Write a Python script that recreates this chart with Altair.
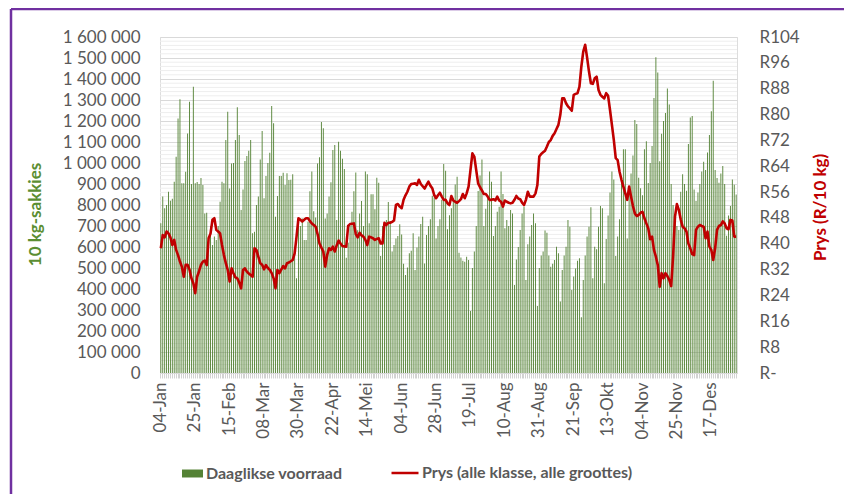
import altair as alt
import pandas as pd

tick_labels = ["04-Jan", "25-Jan", "15-Feb", "08-Mar", "30-Mar", "22-Apr", "14-Mei",
               "04-Jun", "28-Jun", "19-Jul", "10-Aug", "31-Aug", "21-Sep", "13-Okt",
               "04-Nov", "25-Nov", "17-Des"]

# daily stock, in thousands of 10 kg bags (one value per trading day)
stock_k = [
    713, 840, 784, 800, 863, 820, 830, 911, 1030, 1212, 1303, 903, 903, 958, 1141, 1292, 900, 1363,
    903, 910, 900, 928, 895, 760, 763, 633, 700, 609, 650, 633, 700, 816, 911, 903, 1109, 1244,
    879, 998, 1000, 1109, 1265, 1133, 776, 874, 1010, 1033, 1058, 1109, 665, 673, 800, 840, 1017, 1152,
    832, 938, 1000, 1049, 1271, 1189, 744, 843, 938, 938, 954, 895, 951, 919, 920, 947, 600, 451,
    736, 700, 736, 633, 633, 720, 865, 960, 770, 740, 998, 1027, 1195, 1165, 736, 760, 840, 908,
    1062, 1086, 728, 1101, 1058, 1020, 971, 549, 620, 700, 768, 865, 955, 680, 760, 819, 700, 960,
    947, 713, 851, 851, 780, 930, 906, 557, 700, 680, 728, 814, 724, 578, 609, 640, 652, 708,
    660, 520, 467, 502, 570, 582, 665, 490, 598, 650, 709, 744, 522, 657, 700, 732, 844, 836,
    641, 700, 732, 825, 995, 963, 684, 751, 784, 832, 898, 935, 573, 550, 535, 530, 554, 538,
    295, 500, 578, 700, 867, 940, 1017, 700, 782, 832, 960, 911, 652, 700, 768, 792, 960, 852,
    689, 728, 700, 776, 760, 419, 541, 600, 681, 760, 792, 443, 613, 650, 705, 760, 713, 319,
    500, 560, 578, 678, 668, 560, 506, 520, 538, 601, 570, 340, 490, 560, 601, 728, 697, 395,
    460, 498, 535, 546, 265, 443, 560, 650, 697, 789, 451, 601, 589, 697, 795, 784, 427, 638,
    750, 860, 960, 922, 557, 650, 732, 928, 1065, 1065, 641, 870, 950, 1036, 1205, 1186, 930, 880,
    847, 1065, 1103, 905, 1000, 1081, 1309, 1503, 1431, 1008, 1139, 1200, 1238, 1355, 1279, 900, 800, 747,
    700, 681, 863, 947, 900, 868, 1090, 1217, 1224, 874, 819, 860, 900, 960, 1006, 967, 1050, 1133,
    1247, 1392, 967, 928, 906, 950, 986, 900, 654, 750, 795, 922, 897, 850,
]

# price, R per 10 kg (one value per trading day)
price = [
    38.6, 42.7, 42.0, 43.8, 43.2, 42.0, 39.6, 41.2, 38.1, 36.5, 34.5, 32.9, 29.8, 33.5, 33.5, 32.0, 29.3, 27.8,
    24.7, 29.8, 31.5, 33.5, 34.5, 34.8, 33.4, 41.7, 43.2, 47.4, 47.9, 44.3, 43.8, 43.2, 39.6, 36.5, 34.0, 31.9,
    28.3, 32.4, 30.9, 29.6, 29.3, 28.0, 26.2, 31.9, 32.4, 31.4, 30.8, 30.3, 29.8, 38.6, 38.1, 36.0, 34.0, 33.5,
    32.1, 33.4, 32.5, 31.9, 30.9, 29.3, 26.2, 31.9, 30.9, 32.0, 33.1, 32.4, 34.0, 34.2, 34.6, 35.0, 37.0, 42.2,
    47.9, 47.4, 46.9, 47.4, 47.9, 47.9, 47.0, 46.3, 45.8, 45.3, 43.0, 40.1, 38.8, 37.6, 32.9, 36.5, 38.6, 38.1,
    39.1, 37.6, 39.5, 41.0, 40.1, 39.3, 39.2, 39.1, 45.5, 46.1, 46.2, 46.3, 43.0, 42.0, 43.4, 42.6, 42.2, 41.2,
    39.6, 42.2, 42.0, 41.7, 41.2, 41.5, 41.7, 40.1, 40.1, 46.5, 45.8, 46.5, 46.5, 46.8, 47.2, 52.0, 52.3, 51.5,
    51.0, 53.6, 55.0, 56.1, 57.7, 58.5, 58.6, 58.7, 58.2, 59.8, 58.5, 57.8, 57.1, 58.2, 59.2, 58.0, 57.2, 55.1,
    54.1, 55.0, 55.8, 54.6, 53.6, 53.6, 52.5, 52.0, 54.8, 53.4, 53.0, 52.7, 53.2, 53.8, 55.4, 54.1, 55.6, 57.7,
    62.8, 68.0, 67.0, 62.8, 58.7, 57.5, 56.5, 55.4, 55.4, 54.6, 53.6, 53.6, 53.8, 53.4, 54.6, 53.4, 53.0, 51.5,
    53.4, 53.0, 52.7, 52.5, 52.7, 53.6, 54.8, 54.0, 53.8, 52.7, 52.0, 53.6, 56.1, 54.6, 54.6, 54.6, 55.6, 58.2,
    67.0, 67.8, 68.3, 68.8, 70.1, 71.5, 72.1, 73.4, 74.2, 75.5, 76.8, 79.9, 85.0, 85.0, 83.5, 82.5, 81.9, 81.2,
    86.1, 86.4, 86.6, 88.6, 94.8, 99.5, 101.6, 97.7, 93.3, 89.7, 89.5, 91.2, 91.7, 87.6, 86.1, 85.5, 85.0, 86.6,
    85.8, 81.4, 76.8, 72.1, 66.5, 65.9, 62.3, 59.8, 57.7, 55.6, 53.6, 57.7, 54.6, 51.7, 49.4, 48.6, 48.9, 49.6,
    49.9, 47.9, 46.3, 44.8, 41.4, 42.2, 38.1, 36.0, 33.4, 26.7, 30.9, 29.3, 30.9, 30.0, 28.8, 26.9, 36.0, 48.4,
    52.3, 50.5, 47.5, 45.3, 44.8, 43.8, 40.1, 38.6, 36.8, 36.5, 44.3, 45.3, 45.8, 45.5, 45.3, 41.7, 43.8, 39.1,
    38.1, 35.0, 38.6, 44.3, 45.5, 45.8, 46.9, 46.3, 44.8, 44.5, 47.4, 47.2, 42.2, 42.2,
]

n = min(len(stock_k), len(price))
df = pd.DataFrame({
    "i": list(range(n)),
    "stock": [v * 1000 for v in stock_k[:n]],
    "price": price[:n],
})

FONT = "Lato"
GREY = "#595959"
GREEN = "#548235"
BAR_GREEN = "#5f8f3c"
RED = "#c00000"
PURPLE = "#7030a0"

lab_arr = "[" + ",".join("'" + t + "'" for t in tick_labels) + "]"
x_label_expr = (f"(datum.value % 18 == 0 && datum.value / 18 < {len(tick_labels)}) ? "
                f"{lab_arr}[datum.value / 18] : ''")

x_enc = alt.X(
    "i:O",
    scale=alt.Scale(paddingInner=0.52, paddingOuter=0.2),
    axis=alt.Axis(
        title=None, labelExpr=x_label_expr, labelAngle=270, labelAlign="right",
        labelBaseline="middle", labelFont=FONT, labelFontSize=17, labelColor=GREY,
        labelPadding=4, labelOverlap=False, tickColor="#d2d2d2", tickSize=5,
        domainColor="#d9d9d9", grid=False,
    ),
)

major = list(range(0, 1600001, 100000))
minor = [v for v in range(20000, 1600000, 20000) if v % 100000]

minor_grid = alt.Chart(alt.Data(values=[{"g": v} for v in minor])).mark_rule(
    color="#eeeeee", strokeWidth=1
).encode(y=alt.Y("g:Q", scale=alt.Scale(domain=[0, 1600000]), axis=None))

bars = alt.Chart(df).transform_calculate(s="'Daaglikse voorraad'").mark_bar(
    color=BAR_GREEN
).encode(
    x=x_enc,
    y=alt.Y(
        "stock:Q",
        scale=alt.Scale(domain=[0, 1600000]),
        axis=alt.Axis(
            values=major,
            labelExpr="replace(format(datum.value, ','), regexp(',', 'g'), ' ')",
            grid=True, gridColor="#d9d9d9", ticks=False, domain=False,
            labelPadding=20, labelFont=FONT, labelFontSize=17, labelColor=GREY,
            title="10 kg-sakkies", titleFont=FONT, titleFontSize=17, titleFontWeight="bold",
            titleColor="#5b8e32", titleAngle=270, titleX=-125, titleY=177,
            titleAlign="center", titleBaseline="middle",
        ),
    ),
    color=alt.Color(
        "s:N",
        scale=alt.Scale(range=[GREEN]),
        legend=alt.Legend(
            title=None, orient="none", legendX=22, legendY=426,
            symbolType="M-1,-0.38H1V0.38H-1Z", symbolSize=441, symbolStrokeWidth=0,
            labelFont=FONT, labelFontSize=16, labelFontWeight="bold", labelColor=GREY,
            labelOffset=3, labelLimit=0,
        ),
    ),
)

line = alt.Chart(df).transform_calculate(p="'Prys (alle klasse, alle groottes)'").mark_line(
    strokeWidth=2.6, strokeJoin="round"
).encode(
    x=x_enc,
    y=alt.Y(
        "price:Q",
        scale=alt.Scale(domain=[0, 104]),
        axis=alt.Axis(
            orient="right", values=list(range(0, 105, 8)),
            labelExpr="datum.value == 0 ? 'R-' : 'R' + datum.value",
            grid=False, ticks=False, domain=False, labelPadding=22,
            labelFont=FONT, labelFontSize=17, labelColor=GREY,
            title="Prys (R/10 kg)", titleFont=FONT, titleFontSize=17, titleFontWeight="bold",
            titleColor=RED, titleAngle=270, titleX=83, titleY=170,
            titleAlign="center", titleBaseline="middle",
        ),
    ),
    stroke=alt.Stroke(
        "p:N",
        scale=alt.Scale(range=[RED]),
        legend=alt.Legend(
            title=None, orient="none", legendX=230, legendY=421,
            symbolType="stroke", symbolSize=729, symbolStrokeWidth=2.5,
            labelFont=FONT, labelFontSize=16, labelFontWeight="bold", labelColor=GREY,
            labelOffset=2, labelLimit=0,
        ),
    ),
)

frame_data = alt.Data(values=[{"f": 1}])
frame_left = alt.Chart(frame_data).mark_rule(color=PURPLE, strokeWidth=2.5).encode(
    x=alt.value(-149), y=alt.value(-28), y2=alt.value(460)
)
frame_top = alt.Chart(frame_data).mark_rule(color=PURPLE, strokeWidth=2.5).encode(
    x=alt.value(-149), x2=alt.value(690), y=alt.value(-28)
)

chart = alt.layer(minor_grid, bars, line, frame_left, frame_top).resolve_scale(
    y="independent", color="independent", stroke="independent"
).properties(
    width=577, height=336,
    autosize=alt.AutoSizeParams(type="none"),
    padding={"left": 152, "top": 29, "right": 107, "bottom": 121},
).configure_view(stroke=None).configure(font=FONT)

chart.save("out.html", embed_options={"renderer": "svg", "actions": False})
